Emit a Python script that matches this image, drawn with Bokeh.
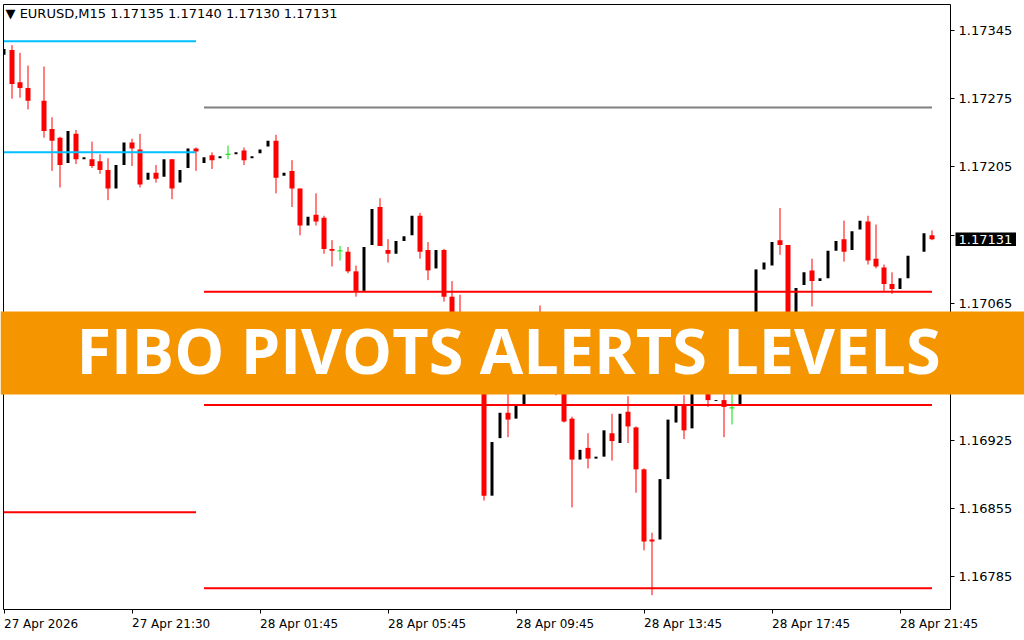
import numpy as np
from bokeh.plotting import figure
from bokeh.models import Range1d, FixedTicker, PrintfTickFormatter, Label
from bokeh.embed import file_html
from bokeh.resources import INLINE
from bokeh.core.properties import value

# ---------------- data ----------------
symbol = "EURUSD,M15"
last_ohlc = ["1.17135", "1.17140", "1.17130", "1.17131"]
last_price = 1.17131

time_ticks = [0, 16, 32, 48, 64, 80, 96, 112]
time_labels = ["27 Apr 2026", "27 Apr 21:30", "28 Apr 01:45", "28 Apr 05:45",
               "28 Apr 09:45", "28 Apr 13:45", "28 Apr 17:45", "28 Apr 21:45"]
price_ticks = [1.16785, 1.16855, 1.16925, 1.16995, 1.17065, 1.17135,
               1.17205, 1.17275, 1.17345]

nan = float("nan")
opens = [1.17320, 1.17325, 1.17292, 1.17286, nan, 1.17273, 1.17244, 1.17235, 1.17209, 1.17239,
         1.17213, 1.17213, 1.17211, 1.17202, 1.17183, 1.17207, 1.17230, 1.17223, 1.17192, 1.17199,
         1.17195, 1.17213, 1.17189, 1.17204, 1.17224, 1.17209, 1.17217, 1.17214, 1.17218, 1.17218,
         1.17222, 1.17214, 1.17219, 1.17226, 1.17232, 1.17196, 1.17201, 1.17183, 1.17145, 1.17156,
         1.17153, 1.17121, 1.17119, 1.17118, 1.17098, 1.17078, 1.17125, 1.17164, 1.17120, 1.17116,
         1.17129, 1.17135, 1.17155, 1.17120, 1.17101, 1.17120, 1.17072, 1.17051, 1.17028, 1.17038,
         1.17013, 1.16868, 1.16927, 1.16953, 1.16947, 1.16962, 1.16992, 1.17033, 1.17013, 1.16998,
         1.16979, 1.16947, 1.16905, 1.16917, 1.16906, 1.16908, 1.16932, 1.16922, 1.16954, 1.16938,
         1.16895, 1.16823, 1.16823, 1.16885, 1.16943, 1.16961, 1.16937, 1.17008, 1.16982, 1.16965,
         1.16966, 1.16958, 1.16962, 1.17008, 1.17033, 1.17100, 1.17104, 1.17130, 1.17125, 1.17033,
         1.17084, 1.17099, 1.17088, 1.17091, 1.17119, 1.17131, 1.17120, 1.17141, 1.17149, 1.17111,
         1.17102, 1.17085, 1.17080, 1.17091, nan, 1.17118, 1.17135]
highs = [1.17326, 1.17330, 1.17322, 1.17309, nan, 1.17308, 1.17256, 1.17236, 1.17242, 1.17243,
         1.17215, 1.17231, 1.17218, 1.17214, 1.17207, 1.17230, 1.17234, 1.17239, 1.17199, 1.17207,
         1.17213, 1.17213, 1.17202, 1.17224, 1.17225, 1.17215, 1.17220, 1.17216, 1.17227, 1.17220,
         1.17225, 1.17216, 1.17223, 1.17232, 1.17238, 1.17199, 1.17212, 1.17183, 1.17154, 1.17178,
         1.17155, 1.17130, 1.17124, 1.17123, 1.17104, 1.17123, 1.17162, 1.17173, 1.17131, 1.17129,
         1.17134, 1.17155, 1.17158, 1.17128, 1.17120, 1.17121, 1.17088, 1.17074, 1.17038, 1.17044,
         1.17018, 1.16923, 1.16953, 1.16974, 1.16960, 1.16992, 1.17028, 1.17063, 1.17018, 1.17003,
         1.16987, 1.16949, 1.16915, 1.16932, 1.16908, 1.16935, 1.16952, 1.16952, 1.16970, 1.16939,
         1.16896, 1.16830, 1.16885, 1.16946, 1.16960, 1.16971, 1.17008, 1.17023, 1.16989, 1.16966,
         1.16987, 1.16998, 1.17008, 1.17033, 1.17100, 1.17107, 1.17128, 1.17163, 1.17125, 1.17081,
         1.17097, 1.17111, 1.17091, 1.17119, 1.17129, 1.17150, 1.17139, 1.17150, 1.17155, 1.17146,
         1.17105, 1.17097, 1.17091, 1.17114, nan, 1.17137, 1.17140]
lows = [1.17320, 1.17275, 1.17276, 1.17264, nan, 1.17235, 1.17201, 1.17184, 1.17209, 1.17208,
        1.17213, 1.17204, 1.17198, 1.17171, 1.17183, 1.17207, 1.17206, 1.17184, 1.17192, 1.17189,
        1.17195, 1.17172, 1.17189, 1.17204, 1.17201, 1.17209, 1.17203, 1.17214, 1.17213, 1.17218,
        1.17207, 1.17214, 1.17219, 1.17226, 1.17178, 1.17196, 1.17164, 1.17135, 1.17145, 1.17145,
        1.17116, 1.17103, 1.17109, 1.17096, 1.17072, 1.17078, 1.17125, 1.17124, 1.17107, 1.17116,
        1.17129, 1.17135, 1.17111, 1.17089, 1.17101, 1.17067, 1.17044, 1.17023, 1.17028, 1.17008,
        1.16863, 1.16868, 1.16927, 1.16928, 1.16947, 1.16962, 1.16992, 1.17006, 1.16992, 1.16971,
        1.16943, 1.16856, 1.16905, 1.16896, 1.16906, 1.16908, 1.16904, 1.16922, 1.16922, 1.16871,
        1.16812, 1.16766, 1.16823, 1.16885, 1.16943, 1.16926, 1.16937, 1.17008, 1.16959, 1.16965,
        1.16928, 1.16941, 1.16962, 1.17008, 1.17033, 1.17100, 1.17104, 1.17115, 1.17018, 1.17033,
        1.17084, 1.17062, 1.17088, 1.17091, 1.17119, 1.17108, 1.17120, 1.17141, 1.17105, 1.17101,
        1.17078, 1.17075, 1.17080, 1.17091, nan, 1.17118, 1.17130]
closes = [1.17326, 1.17290, 1.17286, 1.17273, nan, 1.17242, 1.17232, 1.17207, 1.17242, 1.17213,
          1.17215, 1.17206, 1.17202, 1.17183, 1.17207, 1.17230, 1.17224, 1.17187, 1.17199, 1.17193,
          1.17213, 1.17183, 1.17202, 1.17224, 1.17221, 1.17215, 1.17212, 1.17216, 1.17218, 1.17220,
          1.17212, 1.17216, 1.17223, 1.17232, 1.17194, 1.17199, 1.17183, 1.17145, 1.17154, 1.17149,
          1.17121, 1.17119, 1.17119, 1.17098, 1.17078, 1.17123, 1.17162, 1.17124, 1.17116, 1.17129,
          1.17134, 1.17155, 1.17118, 1.17099, 1.17120, 1.17072, 1.17051, 1.17033, 1.17038, 1.17013,
          1.16868, 1.16923, 1.16953, 1.16946, 1.16960, 1.16992, 1.17028, 1.17013, 1.16998, 1.16979,
          1.16944, 1.16905, 1.16915, 1.16906, 1.16908, 1.16935, 1.16924, 1.16952, 1.16939, 1.16895,
          1.16821, 1.16821, 1.16885, 1.16946, 1.16960, 1.16935, 1.17008, 1.17023, 1.16966, 1.16966,
          1.16959, 1.16958, 1.17008, 1.17033, 1.17100, 1.17107, 1.17128, 1.17125, 1.17028, 1.17081,
          1.17097, 1.17088, 1.17091, 1.17119, 1.17129, 1.17118, 1.17139, 1.17150, 1.17109, 1.17103,
          1.17085, 1.17080, 1.17091, 1.17114, nan, 1.17137, 1.17131]

# Fibonacci pivot levels (previous day segment, current day segment)
level_names = ["R1", "P", "S1", "R1", "S1", "S2", "S3"]
level_price = [1.17334, 1.17220, 1.16851, 1.17266, 1.17077, 1.16961, 1.16773]
level_start = [0, 0, 0, 25, 25, 25, 25]
level_end = [24, 24, 24, 116, 116, 116, 116]

banner_text = "FIBO PIVOTS ALERTS LEVELS"

# ---------------- styles ----------------
level_colors = ["#00BFFF", "#00BFFF", "#FF0000", "#808080", "#FF0000", "#FF0000", "#FF0000"]
BEAR = "#FF0000"
BULL = "#000000"
DOJI = "#00E000"
BANNER = "#F59500"
AXIS_FONT = "DejaVu Sans"

o = np.array(opens, dtype=float)
h = np.array(highs, dtype=float)
l = np.array(lows, dtype=float)
c = np.array(closes, dtype=float)
x = np.arange(len(o), dtype=float)
valid = ~np.isnan(o)
bear = valid & (c < o)
bull = valid & (c > o)
doji = valid & (c == o)

p = figure(width=1024, height=640, output_backend="svg", toolbar_location=None,
           x_range=Range1d(-0.0625, 118.3125), y_range=Range1d(1.167513, 1.173716),
           y_axis_location="right", min_border_left=3, min_border_top=4,
           min_border_right=74, min_border_bottom=28)
p.background_fill_color = "white"
p.border_fill_color = "white"
p.outline_line_color = "black"
p.outline_line_width = 1
p.xgrid.visible = False
p.ygrid.visible = False

# candles
p.segment(x0=x[bear], y0=h[bear], x1=x[bear], y1=l[bear], line_color=BEAR, line_width=1)
p.vbar(x=x[bear], bottom=c[bear], top=o[bear], width=0.625, fill_color=BEAR, line_color=None)
p.vbar(x=x[bull], bottom=o[bull], top=c[bull], width=0.375, fill_color=BULL, line_color=None)
p.segment(x0=x[doji], y0=h[doji], x1=x[doji], y1=l[doji], line_color=DOJI, line_width=1)
p.segment(x0=x[doji] - 0.3125, y0=c[doji], x1=x[doji] + 0.3125, y1=c[doji], line_color=DOJI, line_width=1)

# pivot levels
p.segment(x0=level_start, y0=level_price, x1=level_end, y1=level_price,
          line_color=level_colors, line_width=2)

# axes
p.xaxis.ticker = FixedTicker(ticks=time_ticks)
p.xaxis.major_label_overrides = {t: s for t, s in zip(time_ticks, time_labels)}
p.yaxis.ticker = FixedTicker(ticks=price_ticks)
p.yaxis.formatter = PrintfTickFormatter(format="%.5f")
p.yaxis.major_label_overrides = {1.17135: ""}   # hidden behind the price tag
for ax in (p.xaxis[0], p.yaxis[0]):
    ax.axis_line_color = None
    ax.major_tick_line_color = "black"
    ax.major_tick_out = 4
    ax.major_tick_in = 0
    ax.minor_tick_line_color = None
    ax.major_label_text_font = AXIS_FONT
    ax.major_label_text_color = "black"
p.xaxis.major_label_text_font_size = "12px"
p.xaxis.major_label_orientation = -0.0001   # labels start at their tick
p.xaxis.major_label_standoff = 10
p.yaxis.major_label_text_font_size = "13px"
p.yaxis.major_label_standoff = 4

# header
p.add_layout(Label(x=2, x_units="screen", y=1.173624,
                   text="\u25BC " + symbol + "  " + " ".join(last_ohlc),
                   text_font=AXIS_FONT, text_font_size="13px", text_color="black",
                   text_baseline="middle", text_align="left"))

# current price tag (overlay on the price scale)
tag = figure(width=61, height=14, output_backend="svg", toolbar_location=None,
             x_range=Range1d(0, 61), y_range=Range1d(0, 14), min_border=0,
             x_axis_location=None, y_axis_location=None,
             background_fill_color="black", border_fill_color="black",
             outline_line_color=None,
             styles={"position": "absolute", "left": "955px", "top": "232px", "z-index": "5"})
tag.grid.visible = False
tag.text(x=[3], y=[7], text=["%.5f" % last_price], text_color="white",
         text_font=value(AXIS_FONT), text_font_size="13px",
         text_baseline="middle", text_align="left")

# banner overlay (transparent margin above/below the orange band so the text box fits)
banner = figure(width=1024, height=123, output_backend="svg", toolbar_location=None,
                x_range=Range1d(0, 1024), y_range=Range1d(0, 123), min_border=0,
                x_axis_location=None, y_axis_location=None,
                background_fill_alpha=0, border_fill_alpha=0,
                outline_line_color=None,
                styles={"position": "absolute", "left": "0px", "top": "291px", "z-index": "6"})
banner.grid.visible = False
banner.quad(left=[0], right=[1024], bottom=[20], top=[103], fill_color=BANNER, line_color=None)
banner.text(x=[508], y=[65], text=[banner_text], text_color="white",
            text_font=value("Open Sans"), text_font_style="bold", text_font_size="63px",
            text_align="center", text_baseline="middle")

open("out.html", "w").write(file_html([p, tag, banner], INLINE))
